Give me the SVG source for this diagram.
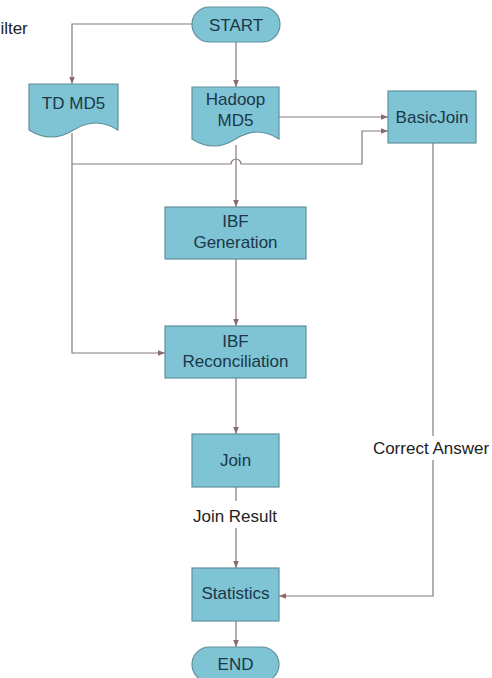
<svg xmlns="http://www.w3.org/2000/svg" width="492" height="678" viewBox="0 0 492 678">
<defs>
<style>
.box{fill:#7ec4d4;stroke:#628f9d;stroke-width:1.2}
.t{font-family:"Liberation Sans",Arial,sans-serif;font-size:17px;fill:#1c3747;text-anchor:middle}
.lbl{font-family:"Liberation Sans",Arial,sans-serif;font-size:17px;fill:#222;text-anchor:middle}
.c{fill:none;stroke:#877a7a;stroke-width:1.2}
</style>
<marker id="arr" viewBox="0 0 10 10" refX="10" refY="5" markerWidth="7" markerHeight="7" orient="auto" markerUnits="userSpaceOnUse">
<path d="M0,1 L10,5 L0,9 z" fill="#8b6a6a"/>
</marker>
</defs>
<rect width="492" height="678" fill="#fff"/>
<text x="-10" y="34" font-family="Liberation Sans, Arial, sans-serif" font-size="17" fill="#222">Filter</text>
<g id="connectors">
<path class="c" d="M192,24 H72 V84" marker-end="url(#arr)"/>
<path class="c" d="M236,42 V87" marker-end="url(#arr)"/>
<path class="c" d="M279,117 H388" marker-end="url(#arr)"/>
<path class="c" d="M72,133 V353 H165" marker-end="url(#arr)"/>
<path class="c" d="M72,164 H231 A5,5 0 0 1 241,164 H362 V131 H388" marker-end="url(#arr)"/>
<path class="c" d="M236,145 V207" marker-end="url(#arr)"/>
<path class="c" d="M236,259 V326" marker-end="url(#arr)"/>
<path class="c" d="M236,378 V434" marker-end="url(#arr)"/>
<path class="c" d="M236,487 V501"/>
<path class="c" d="M236,528 V568" marker-end="url(#arr)"/>
<path class="c" d="M433,143 V436"/>
<path class="c" d="M433,460 V596 H279" marker-end="url(#arr)"/>
<path class="c" d="M236,621 V647" marker-end="url(#arr)"/>
<text class="lbl" x="235" y="522">Join Result</text>
<text class="lbl" x="431" y="454">Correct Answer</text>
</g>
<g id="start">
<rect class="box" x="192" y="7" width="88" height="35" rx="17.5"/>
<text class="t" x="236" y="30.5">START</text>
</g>
<g id="td-md5">
<path class="box" d="M29,84 H118 V130 Q95.75,116 73.5,130 Q51.25,144 29,130 Z"/>
<text class="t" x="73.5" y="109">TD MD5</text>
</g>
<g id="hadoop-md5">
<path class="box" d="M192,87 H279 V139 Q257.25,125 235.5,139 Q213.75,153 192,139 Z"/>
<text class="t" x="235.5" y="105">Hadoop</text>
<text class="t" x="235.5" y="126">MD5</text>
</g>
<g id="basicjoin">
<rect class="box" x="388" y="91" width="88" height="52"/>
<text class="t" x="432" y="123">BasicJoin</text>
</g>
<g id="ibf-generation">
<rect class="box" x="165" y="207" width="141" height="52"/>
<text class="t" x="235.5" y="227">IBF</text>
<text class="t" x="235.5" y="248">Generation</text>
</g>
<g id="ibf-reconciliation">
<rect class="box" x="165" y="326" width="141" height="52"/>
<text class="t" x="235.5" y="347">IBF</text>
<text class="t" x="235.5" y="367">Reconciliation</text>
</g>
<g id="join">
<rect class="box" x="192" y="434" width="87" height="53"/>
<text class="t" x="235.5" y="466">Join</text>
</g>
<g id="statistics">
<rect class="box" x="192" y="568" width="87" height="53"/>
<text class="t" x="235.5" y="599">Statistics</text>
</g>
<g id="end">
<rect class="box" x="192" y="647" width="87" height="35" rx="17.5"/>
<text class="t" x="235.5" y="670">END</text>
</g>
</svg>
